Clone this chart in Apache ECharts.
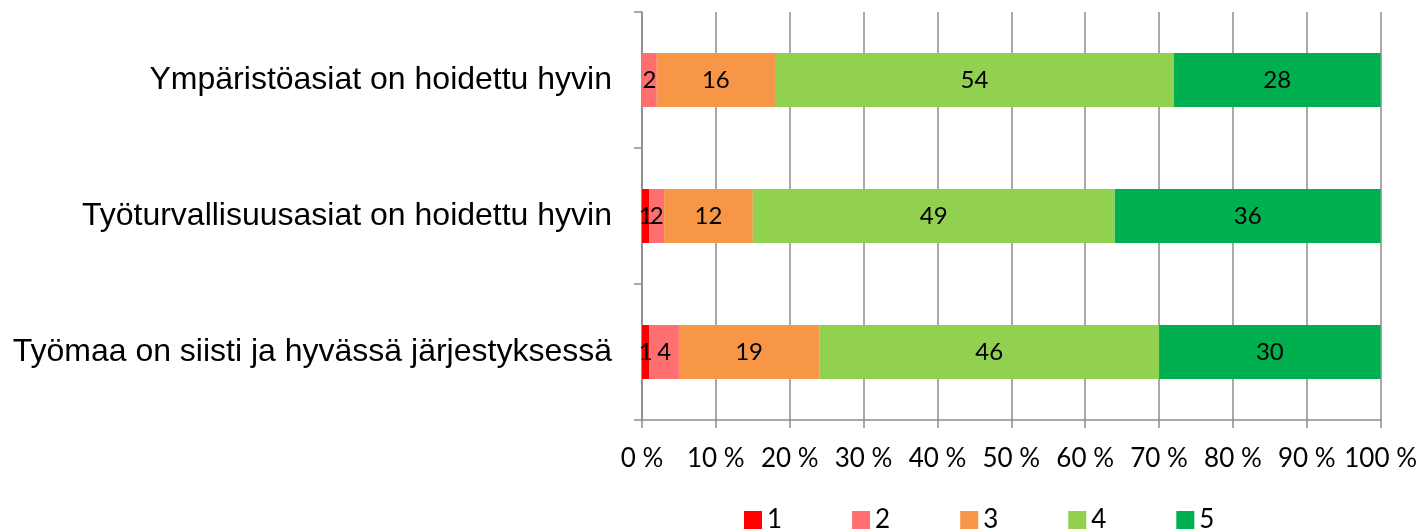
<!DOCTYPE html>
<html>
<head>
<meta charset="utf-8">
<script src="https://cdn.jsdelivr.net/npm/echarts@6/dist/echarts.min.js"></script>
<style>html,body{margin:0;padding:0;background:#fff}#c{width:1420px;height:531px}</style>
</head>
<body>
<div id="c"></div>
<script>
const categories = ["Ympäristöasiat on hoidettu hyvin", "Työturvallisuusasiat on hoidettu hyvin", "Työmaa on siisti ja hyvässä järjestyksessä"];
const seriesNames = ["1", "2", "3", "4", "5"];
const s1 = [0, 1, 1];
const s2 = [2, 2, 4];
const s3 = [16, 12, 19];
const s4 = [54, 49, 46];
const s5 = [28, 36, 30];
const colors = ["#FF0000", "#FF6F6F", "#F79646", "#92D050", "#00B050"];
const allData = [s1, s2, s3, s4, s5];

const chart = echarts.init(document.getElementById('c'));
const gray = '#8C8C8C';
chart.setOption({
  animation: false,
  grid: {left: 642, right: 39, top: 12, bottom: 111, containLabel: false},
  legend: {
    left: 739, top: 502, itemWidth: 18, itemHeight: 18, itemGap: 70,
    icon: 'rect',
    textStyle: {fontFamily: 'Lato', fontSize: 26, color: '#000'},
    data: seriesNames
  },
  xAxis: {
    type: 'value', min: 0, max: 100, interval: 10,
    axisLine: {show: true, lineStyle: {color: gray, width: 1.5}},
    axisTick: {show: true, length: 8, lineStyle: {color: gray, width: 1.5}},
    splitLine: {show: true, lineStyle: {color: gray, width: 1.5}},
    axisLabel: {formatter: '{value} %', fontFamily: 'Lato', fontSize: 26, color: '#000', margin: 26}
  },
  yAxis: {
    type: 'category', inverse: true, data: categories,
    axisLine: {show: true, lineStyle: {color: gray, width: 1.5}},
    axisTick: {show: true, length: 8, alignWithLabel: false, lineStyle: {color: gray, width: 1.5}},
    axisLabel: {fontFamily: 'Liberation Sans', fontSize: 32, color: '#000', margin: 30}
  },
  series: allData.map((d, i) => ({
    name: seriesNames[i], type: 'bar', stack: 'total', barWidth: 54,
    data: d,
    itemStyle: {color: colors[i]},
    label: {show: true, position: 'inside', fontFamily: 'Lato', fontSize: 24, color: '#000',
      formatter: p => p.value === 0 ? '' : String(p.value)}
  }))
});
</script>
</body>
</html>
